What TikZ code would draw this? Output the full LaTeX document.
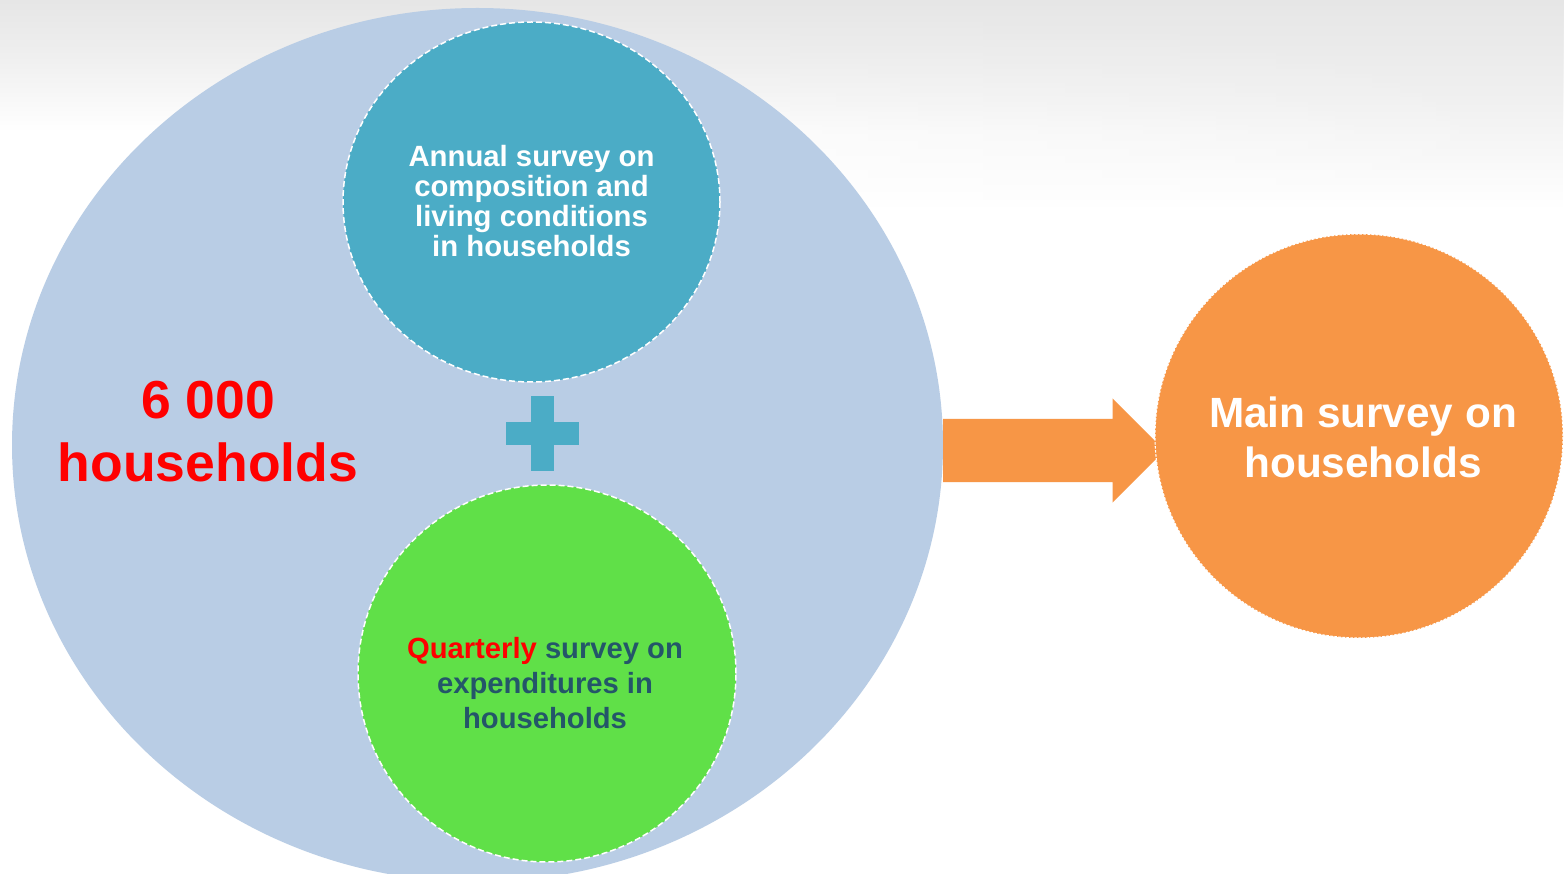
\documentclass[tikz,border=0pt]{standalone}
\usepackage{fontspec}
\setmainfont{Liberation Sans}
\usetikzlibrary{shapes.geometric,calc,fadings}

\definecolor{poolblue}{HTML}{B9CDE5}
\definecolor{annualteal}{HTML}{4BACC6}
\definecolor{quartergreen}{HTML}{60E048}
\definecolor{mainorange}{HTML}{F79646}
\definecolor{darkteal}{HTML}{245669}
\definecolor{alertred}{HTML}{FF0000}
\definecolor{sheen}{HTML}{E6E6E6}
\definecolor{sheenmid}{HTML}{F0F0F0}

% grey at the top edge, easing into white
\pgfdeclareverticalshading{topsheen}{100bp}{
  color(0bp)=(white); color(60bp)=(white); color(68bp)=(sheenmid);
  color(75bp)=(sheen); color(100bp)=(sheen)}
\pgfdeclareverticalshading{sidesheen}{100bp}{
  color(0bp)=(white); color(50bp)=(white); color(63bp)=(sheenmid);
  color(75bp)=(sheen); color(100bp)=(sheen)}
\tikzfading[name=towardsright, left color=transparent!100, right color=transparent!0]

\tikzset{
  disc/.style={ellipse, inner sep=0pt, outer sep=0pt},
  surveyring/.style={disc, draw=white, line width=1.5pt, dash pattern=on 6pt off 3pt},
  mainring/.style={disc, draw=white, line width=1.1pt, dash pattern=on 2.5pt off 1.5pt},
  label/.style={align=center, inner sep=0pt, font=\bfseries},
  flow/.style={fill=mainorange},
}

\begin{document}
\begin{tikzpicture}[x=1pt,y=-1pt]
\useasboundingbox (0,0) rectangle (1564,874);
\clip (0,0) rectangle (1564,874);
\fill[white] (0,0) rectangle (1564,874);

% soft grey sheen along the top edge, reaching lower on the right
\shade[shading=topsheen] (0,0) rectangle (1564,440);
\shade[shading=sidesheen, path fading=towardsright] (400,0) rectangle (1564,420);

% household pool
\node[disc, fill=poolblue, minimum width=931pt, minimum height=874pt] (big) at (477.5,445) {};

% component surveys
\node[surveyring, fill=annualteal, minimum width=377pt, minimum height=360pt] (annual) at (531.5,202) {};
\node[surveyring, fill=quartergreen, minimum width=378pt, minimum height=377pt] (quarter) at (547,673.5) {};

% plus sign between them
\coordinate (plus) at (542.5,433.5);
\fill[annualteal] ($(plus)+(-11.5,-37)$) rectangle ($(plus)+(11.5,37)$);
\fill[annualteal] ($(plus)+(-36.5,-11.5)$) rectangle ($(plus)+(36.5,11.5)$);

% resulting survey position (the arrow runs under its disc)
\path (1359,436) coordinate (maincentre);
\path (maincentre) ++(-204,0) coordinate (mainleft);

% block arrow from the pool to the main survey
\path (big.east) ++(0,5.5) coordinate (tail);
\path (mainleft) ++(9.5,0) coordinate (tipx);
\coordinate (tip) at (tipx |- tail);
\fill[flow] ($(tail)+(0,-31.5)$) -- ($(tip)+(-52,-31.5)$) -- ($(tip)+(-52,-52)$) -- (tip)
  -- ($(tip)+(-52,52)$) -- ($(tip)+(-52,31.5)$) -- ($(tail)+(0,31.5)$) -- cycle;

\node[mainring, fill=mainorange, minimum width=408pt, minimum height=404pt] (main) at (maincentre) {};

% texts
\node[label, text=alertred, font=\fontsize{53.5}{63}\selectfont\bfseries] (count) at (208,431.5)
  {6 000\\households};
\node[label, text=white, font=\fontsize{29.3}{30}\selectfont\bfseries] (annualtext) at (531.5,201)
  {Annual survey on\\composition and\\living conditions\\in households};
\node[label, text=darkteal, font=\fontsize{29.2}{35}\selectfont\bfseries] (quartertext) at (545,683)
  {\textcolor{alertred}{Quarterly} survey on\\expenditures in\\households};
\node[label, text=white, font=\fontsize{42.3}{50}\selectfont\bfseries] (maintext) at (1363,437)
  {Main survey on\\households};
\end{tikzpicture}
\end{document}
